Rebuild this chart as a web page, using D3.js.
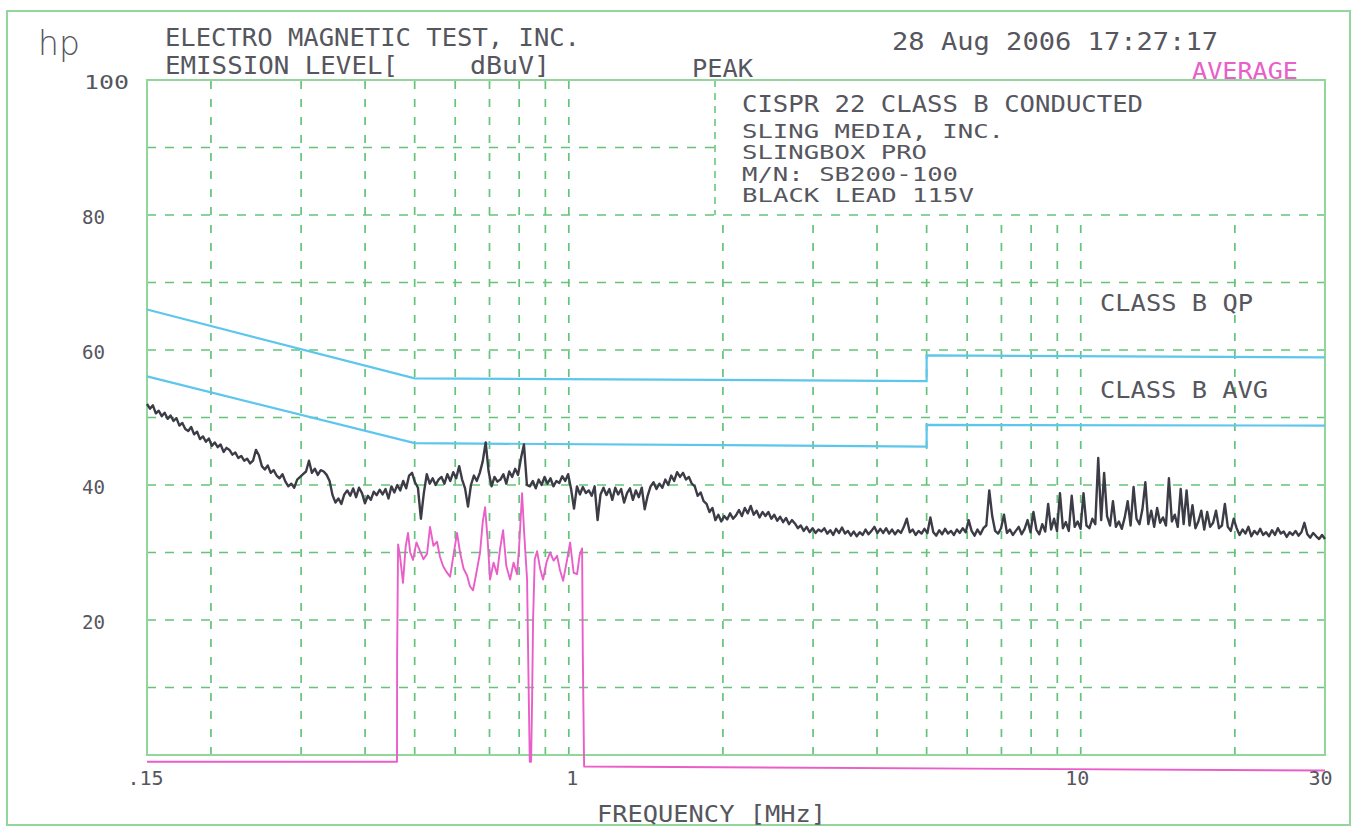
<!DOCTYPE html>
<html><head><meta charset="utf-8">
<script src="https://cdn.jsdelivr.net/npm/d3@7"></script>
<style>
body{margin:0;background:#fff}
svg{display:block}
text{font-family:"DejaVu Sans Mono","Liberation Mono",monospace;fill:#56565e}
</style>
</head><body><svg id="c" width="1355" height="829"></svg>
<script>
// ---- data ----
const sweepStartMHz = 0.15, sweepStopMHz = 30;
// peak detector sweep (401 points, dBuV)
const peakLevels = [
52.0,51.3,51.8,50.6,51.0,50.2,50.7,49.8,50.3,49.5,
49.9,48.8,49.2,48.3,48.0,48.6,47.5,47.9,46.8,47.2,
46.4,46.9,45.8,46.3,45.6,46.0,44.9,45.5,45.2,44.5,
44.8,44.0,44.3,43.6,43.9,43.2,43.6,45.2,44.4,42.8,
42.3,42.9,41.8,42.2,41.4,41.0,41.6,40.5,39.8,40.2,
39.6,40.8,41.2,41.6,42.0,43.6,41.8,42.4,41.5,42.2,
42.0,41.5,40.6,38.5,37.4,38.0,37.2,38.6,39.2,38.4,
39.5,38.2,39.6,38.8,37.3,38.4,37.8,39.0,38.5,39.3,
38.6,39.4,38.0,39.8,38.9,40.0,39.2,40.6,39.5,41.4,
41.8,40.4,39.6,35.0,38.8,41.6,40.2,41.0,40.0,40.8,
41.2,40.2,41.6,40.6,41.9,41.0,42.8,40.8,39.5,36.8,
40.0,41.4,40.6,41.8,43.5,46.3,42.0,39.8,41.2,40.5,
40.8,41.6,40.2,42.0,41.2,42.4,41.5,44.0,46.0,40.0,
39.8,40.6,39.5,40.8,40.0,41.2,40.2,41.0,39.8,40.6,
40.3,41.3,40.6,41.6,39.4,36.5,39.8,38.6,39.7,38.8,
39.2,38.4,39.8,34.8,38.6,39.6,38.5,39.4,37.8,39.6,
38.6,39.4,37.4,38.8,39.5,37.8,39.2,38.2,39.6,36.4,
38.4,39.8,40.4,39.4,40.2,39.6,40.8,40.0,41.4,40.6,
41.9,41.2,41.8,40.8,41.2,40.2,39.8,38.4,38.9,37.6,
37.2,36.0,36.6,34.8,35.6,34.6,35.4,34.9,35.8,35.0,
35.5,36.3,35.4,36.6,35.8,36.9,35.6,36.2,35.2,36.0,
35.4,36.0,35.0,35.6,34.7,35.3,34.5,35.1,34.2,34.8,
34.3,33.6,34.0,33.2,33.8,33.0,33.6,32.9,33.4,33.1,
33.6,32.8,33.3,32.6,33.5,32.9,33.7,32.8,33.2,32.5,
33.1,32.4,33.0,32.6,33.4,32.7,33.2,33.8,32.9,33.5,
32.9,33.6,32.8,33.4,32.7,33.3,32.9,33.8,35.0,33.0,
33.4,32.6,33.2,32.8,33.5,32.9,35.2,33.0,32.5,33.3,
32.7,33.5,32.8,33.2,32.6,33.4,32.9,33.6,33.0,34.8,
33.2,32.5,33.4,32.7,33.6,34.0,39.2,35.4,33.2,32.8,
33.6,35.6,32.9,33.4,32.6,33.2,33.8,32.7,33.5,34.8,
33.0,36.0,33.4,32.7,34.2,33.1,37.2,33.4,35.0,33.2,
38.8,33.6,34.5,33.2,38.4,33.8,34.6,33.5,38.8,34.0,
33.6,35.0,34.2,44.0,34.8,41.8,35.4,34.0,37.6,33.8,
34.6,33.5,35.2,37.6,34.0,39.7,35.0,34.2,36.4,40.4,
34.2,36.2,33.8,36.6,34.4,35.2,34.0,41.0,34.6,35.6,
33.8,39.4,34.2,39.2,34.0,37.0,33.6,34.6,36.2,33.4,
36.0,33.8,34.4,36.2,33.6,34.0,37.2,33.8,33.2,35.0,
33.6,32.6,33.4,32.8,33.8,32.4,33.2,32.7,33.5,32.6,
33.0,32.4,33.3,32.6,33.6,32.8,33.1,32.3,33.0,32.6,
33.2,32.5,33.0,34.4,32.7,32.2,32.9,32.4,32.0,32.6,
32.0
];
// average detector trace [MHz, dBuV]
const avgTrace = [
[0.15,-1.0],[0.4618,-1.0],[0.4620,14],[0.4640,31.2],[0.4680,29.5],[0.4744,25.5],[0.4800,30.8],
[0.4852,32.9],[0.4900,30.0],[0.4963,28.9],[0.5040,31.5],[0.5122,30.2],[0.5200,29.0],[0.5286,29.8],
[0.5357,33.8],[0.5440,31.0],[0.5529,31.6],[0.5600,29.4],[0.5680,28.0],[0.5760,27.2],[0.5862,26.4],
[0.5950,29.5],[0.6050,32.9],[0.6132,30.0],[0.6230,27.6],[0.6328,26.6],[0.6410,25.0],[0.6501,24.4],
[0.6600,27.0],[0.6709,30.0],[0.6790,34.5],[0.6862,36.7],[0.6940,32.0],[0.7018,26.0],[0.7130,28.5],
[0.7243,26.8],[0.7340,30.5],[0.7441,33.3],[0.7550,28.0],[0.7679,26.0],[0.7800,28.5],[0.7925,26.8],
[0.8000,31.0],[0.8105,38.8],[0.8180,33.0],[0.8289,26.0],[0.8340,12.0],[0.8390,-1.0],[0.8440,-1.0],
[0.8478,8.0],[0.8516,20.0],[0.8580,29.0],[0.8671,30.2],[0.8790,27.6],[0.8908,26.0],[0.9050,28.6],
[0.9193,30.0],[0.9340,28.8],[0.9488,29.5],[0.9610,27.4],[0.9747,25.8],[0.9900,28.5],[1.0059,31.5],
[1.0220,27.0],[1.0381,26.8],[1.0500,29.6],[1.0617,30.6],[1.0650,15.0],[1.0713,-1.7],[30,-2.3]
];
// CISPR 22 Class B limits as plotted [MHz, dBuV]
const qpLimit  = [[0.15,66.0],[0.5,55.8],[5,55.4],[5,59.2],[30,58.9]];
const avgLimit = [[0.15,56.1],[0.5,46.2],[5,45.7],[5,48.9],[30,48.8]];
const yTicks = [100,80,60,40,20];
const yTickLabels = ["100","80","60","40","20"];
const xTicks = [0.15,1,10,30];
const xTickLabels = [".15","1","10","30"];
const gridLevels = [10,20,30,40,50,60,70,80,90];
const gridFreqs = [0.2,0.3,0.4,0.5,0.6,0.7,0.8,0.9,1,2,3,4,5,6,7,8,9,10,20];

// ---- drawing ----
const svg = d3.select("#c");
const L=147, R=1325, T=80, B=755;
const x = d3.scaleLog().domain([sweepStartMHz, sweepStopMHz]).range([L, R]);
const y = d3.scaleLinear().domain([0,100]).range([B, T]);
const boxX = 715, boxBottom = y(80);

const gridColor = "#55bd6c", frameColor = "#92d69c";

// outer frame
svg.append("rect").attr("x",7).attr("y",11).attr("width",1343).attr("height",814)
  .attr("fill","none").attr("stroke",frameColor).attr("stroke-width",2);

// grid
const g = svg.append("g").attr("stroke",gridColor).attr("stroke-width",1.7)
  .attr("stroke-dasharray","9,9").attr("opacity",0.9);
gridLevels.forEach(v=>{
  g.append("line").attr("x1",L).attr("x2", v>80 ? boxX : R).attr("y1",y(v)).attr("y2",y(v));
});
gridFreqs.forEach(f=>{
  g.append("line").attr("x1",x(f)).attr("x2",x(f)).attr("y1",B).attr("y2", x(f)>boxX ? boxBottom : T)
   .attr("stroke-dasharray","8,10");
});
// annotation box edge
svg.append("line").attr("x1",boxX).attr("x2",boxX).attr("y1",T).attr("y2",boxBottom)
  .attr("stroke",gridColor).attr("stroke-width",1.4).attr("stroke-dasharray","7,6");

// plot frame
svg.append("rect").attr("x",L).attr("y",T).attr("width",R-L).attr("height",B-T)
  .attr("fill","none").attr("stroke",frameColor).attr("stroke-width",2);

// limit lines
const limLine = d3.line().x(d=>x(d[0])).y(d=>y(d[1]));
[qpLimit, avgLimit].forEach(lim=>{
  svg.append("path").attr("d",limLine(lim)).attr("fill","none")
    .attr("stroke","#5cc6ec").attr("stroke-width",2.2);
});

// average trace
svg.append("path").attr("d",limLine(avgTrace)).attr("fill","none")
  .attr("stroke","#ea5ec8").attr("stroke-width",1.9).attr("stroke-linejoin","round");

// peak trace
const nPts = peakLevels.length;
const binFreq = i => sweepStartMHz*Math.pow(sweepStopMHz/sweepStartMHz, i/(nPts-1));
const peakLine = d3.line().x((d,i)=>x(binFreq(i))).y(d=>y(d));
svg.append("path").attr("d",peakLine(peakLevels)).attr("fill","none")
  .attr("stroke","#3c3c47").attr("stroke-width",2.4).attr("stroke-linejoin","round");

// axes labels
const yAxis = d3.axisLeft(y).tickValues(yTicks).tickFormat((d,i)=>yTickLabels[i]).tickSize(0);
const ya = svg.append("g").attr("transform",`translate(${L},0)`).call(yAxis);
ya.select(".domain").remove();
ya.selectAll("text").attr("x",(d)=> d===100 ? 84-L : 82-L).attr("text-anchor","start")
  .attr("dy","0.4em").style("font-size","20px").attr("fill",null)
  .attr("textLength",d=> d===100 ? 45 : 23).attr("lengthAdjust","spacingAndGlyphs")
  .style("font-family",null);
const xAxis = d3.axisBottom(x).tickValues(xTicks).tickFormat((d,i)=>xTickLabels[i]).tickSize(0).tickPadding(16);
const xa = svg.append("g").attr("transform",`translate(0,${B})`).call(xAxis);
xa.select(".domain").remove();
xa.selectAll("text").style("font-size","20px").attr("fill",null).style("font-family",null)
  .attr("x",d=> d===30 ? -5 : (d===0.15 ? -2 : (d===1 ? 3 : -4)));

// texts
function txt(s, xx, yy, size, len, color){
  const t = svg.append("text").attr("x",xx).attr("y",yy).style("font-size",size+"px").text(s);
  if(len) t.attr("textLength",len).attr("lengthAdjust","spacingAndGlyphs");
  if(color) t.style("fill",color);
  return t;
}
svg.append("text").attr("x",38).attr("y",55).text("hp")
  .style("font-family","'DejaVu Sans',sans-serif").style("font-size","33px").style("font-weight","300");
txt("ELECTRO MAGNETIC TEST, INC.",165,46,24,415);
txt("EMISSION LEVEL[",165,74,24,233);
txt("dBuV]",470,74,24,80);
txt("PEAK",692,77,24,61);
txt("28 Aug 2006  17:27:17",892,50,24,326);
txt("AVERAGE",1192,79,23,106,"#ea5ec8");
txt("CISPR 22 CLASS B CONDUCTED",742,112,23,401);
txt("SLING MEDIA, INC.",742,138,19,262);
txt("SLINGBOX PRO",742,159,19,185);
txt("M/N: SB200-100",742,181,19,216);
txt("BLACK LEAD 115V",742,202,19,232);
txt("CLASS B QP",1100,311,23,153);
txt("CLASS B AVG",1100,398,23,168);
txt("FREQUENCY [MHz]",597,822,23,229);
</script>
</body></html>
